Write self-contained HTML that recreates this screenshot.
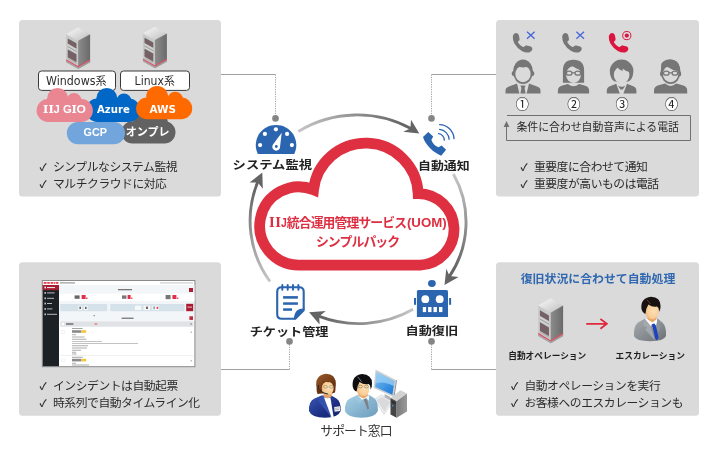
<!DOCTYPE html>
<html lang="ja">
<head>
<meta charset="utf-8">
<title>IIJ統合運用管理サービス(UOM) シンプルパック</title>
<style>
html,body{margin:0;padding:0;background:#fff;}
body{width:716px;height:451px;overflow:hidden;position:relative;font-family:"Liberation Sans","Noto Sans CJK JP",sans-serif;}
svg{position:absolute;left:0;top:0;display:block;will-change:transform;}
svg{font-family:"Liberation Sans","Noto Sans CJK JP",sans-serif;}
.b{font-size:11.8px;letter-spacing:-0.45px;fill:#2b2b2b;}
.ck{font-family:"Noto Sans CJK JP",sans-serif;font-size:10px;font-weight:700;}
.lbl{font-size:13.1px;font-weight:700;fill:#222;text-anchor:middle;}
.ct{font-size:11.8px;font-weight:700;fill:#de2f42;text-anchor:middle;}
</style>
</head>
<body>
<svg width="716" height="451" viewBox="0 0 716 451">
<defs>
<linearGradient id="ga1" gradientUnits="userSpaceOnUse" x1="298" y1="131" x2="420" y2="131"><stop offset="0" stop-color="#c6c6c6"/><stop offset="0.85" stop-color="#666"/><stop offset="1" stop-color="#646464"/></linearGradient>
<linearGradient id="ga2" gradientUnits="userSpaceOnUse" x1="455" y1="174" x2="455" y2="284"><stop offset="0" stop-color="#c6c6c6"/><stop offset="0.85" stop-color="#666"/><stop offset="1" stop-color="#646464"/></linearGradient>
<linearGradient id="ga3" gradientUnits="userSpaceOnUse" x1="413" y1="315" x2="310" y2="315"><stop offset="0" stop-color="#c6c6c6"/><stop offset="0.85" stop-color="#666"/><stop offset="1" stop-color="#646464"/></linearGradient>
<linearGradient id="ga4" gradientUnits="userSpaceOnUse" x1="260" y1="282" x2="260" y2="174"><stop offset="0" stop-color="#c6c6c6"/><stop offset="0.85" stop-color="#666"/><stop offset="1" stop-color="#646464"/></linearGradient>
<linearGradient id="svT" x1="0" y1="0" x2="1" y2="1"><stop offset="0" stop-color="#fbfbfb"/><stop offset="1" stop-color="#bdbdbd"/></linearGradient>
<linearGradient id="svR" x1="0" y1="0" x2="1" y2="0"><stop offset="0" stop-color="#8c8c8c"/><stop offset="1" stop-color="#6a6a6a"/></linearGradient>
<linearGradient id="suit" x1="0" y1="0" x2="1" y2="1"><stop offset="0" stop-color="#a8adb2"/><stop offset="1" stop-color="#6c7176"/></linearGradient>
<radialGradient id="skin" cx="0.62" cy="0.45" r="0.75"><stop offset="0" stop-color="#fde0b4"/><stop offset="0.6" stop-color="#f9cd96"/><stop offset="1" stop-color="#e8965a"/></radialGradient>
<linearGradient id="scr" x1="0" y1="0" x2="1" y2="1"><stop offset="0" stop-color="#7cc0f2"/><stop offset="1" stop-color="#1676d6"/></linearGradient>
<linearGradient id="twr" x1="0" y1="0" x2="1" y2="0"><stop offset="0" stop-color="#7a7a7a"/><stop offset="1" stop-color="#9a9a9a"/></linearGradient>
<linearGradient id="jkt" x1="0" y1="0" x2="1" y2="1"><stop offset="0" stop-color="#a6d0e6"/><stop offset="1" stop-color="#6c9cbc"/></linearGradient>
<linearGradient id="navy" x1="0" y1="0" x2="1" y2="1"><stop offset="0" stop-color="#3a58b4"/><stop offset="0.6" stop-color="#1c2f84"/><stop offset="1" stop-color="#14246a"/></linearGradient>
<linearGradient id="hairb" x1="0" y1="0" x2="1" y2="1"><stop offset="0" stop-color="#9a5a2a"/><stop offset="1" stop-color="#5e2a0c"/></linearGradient>
</defs>

<!-- panels -->
<g id="panels" fill="#dadada">
<rect x="19" y="20" width="202" height="176.5" rx="3.5"/>
<rect x="496" y="20" width="203" height="176.5" rx="3.5"/>
<rect x="19" y="262.2" width="202" height="153.6" rx="3.5"/>
<rect x="496" y="262.2" width="203" height="153.6" rx="3.5"/>
</g>

<!-- connectors -->
<g id="connectors" fill="none" stroke="#a0a0a0" stroke-width="1">
<path d="M221 74.5H275.5"/>
<path d="M275.5 74.5V116" stroke-dasharray="1.2 1.2"/>
<path d="M496 74.5H431.5"/>
<path d="M431.5 74.5V116" stroke-dasharray="1.2 1.2"/>
<path d="M221 369.5H289.5"/>
<path d="M289.5 369.5V343" stroke-dasharray="1.2 1.2"/>
<path d="M496 369.5H431.5"/>
<path d="M431.5 369.5V343" stroke-dasharray="1.2 1.2"/>
</g>
<g id="dots" fill="#858585">
<circle cx="275.5" cy="118.4" r="3.3"/>
<circle cx="431.5" cy="118.4" r="3.3"/>
<circle cx="289.5" cy="341.4" r="3.3"/>
<circle cx="431.5" cy="341.4" r="3.3"/>
</g>

<!-- cycle arrows -->
<g id="arrows" fill="none" stroke-width="2.9" stroke-linecap="butt">
<path d="M298.3 131.4 A113 113 0 0 1 411.4 128.8" stroke="url(#ga1)"/>
<path d="M453.4 174 A97.5 97.5 0 0 1 449.2 276.8" stroke="url(#ga2)"/>
<path d="M413.2 309.3 A111 111 0 0 1 318.6 316.2" stroke="url(#ga3)"/>
<path d="M270 281.5 A102.7 102.7 0 0 1 257.8 181.8" stroke="url(#ga4)"/>
</g>
<g id="arrowheads" fill="#646464">
<path d="M419.3 133.6 L403.2 131.8 L410.4 128.4 L411 119.8 Z"/>
<path d="M444.5 284.9 L446.3 268.8 L449.6 276 L458.6 277 Z"/>
<path d="M309.1 312.3 L325.8 311 L319.2 316.2 L319.6 324.6 Z"/>
<path d="M262.3 172.6 L262.8 188.8 L257.8 182.4 L249.6 182.5 Z"/>
</g>

<!-- cloud -->
<g id="cloud">
<path d="M298.8 265.1 A39.1 39.1 0 1 1 313.53 189.78 A52.5 52.5 0 0 1 418.16 193.56 A35.8 35.8 0 0 1 420.3 265.1 Z" fill="#fff" stroke="#df3041" stroke-width="10.8" stroke-linejoin="miter" stroke-miterlimit="10"/>
<g font-size="11.9" font-weight="700" fill="#de2f42">
<text x="269.1" y="226.9" font-size="12.2"><tspan style="font-family:'DejaVu Serif','Liberation Serif',serif" letter-spacing="0.4">II</tspan><tspan x="280.9" style="font-family:'Liberation Sans',sans-serif" textLength="5.8" lengthAdjust="spacingAndGlyphs">J</tspan></text>
<text x="286.8" y="227.1" textLength="120.2" lengthAdjust="spacing" font-size="12.8">統合運用管理サービス</text>
<text x="406.9" y="226.7" textLength="39.8" lengthAdjust="spacingAndGlyphs" font-size="12.3" style="font-family:'Liberation Sans',sans-serif">(UOM)</text>
<text x="315.9" y="246.1" textLength="84.3" lengthAdjust="spacing" font-size="12.9">シンプルパック</text>
</g>
</g>

<!-- labels -->
<g id="labels" font-size="11.5" font-weight="700" fill="#222">
<text x="232.6" y="169.2" textLength="79.4" lengthAdjust="spacingAndGlyphs">システム監視</text>
<text x="418" y="169.5" textLength="51.6" lengthAdjust="spacingAndGlyphs">自動通知</text>
<text x="249.7" y="336.1" textLength="78.8" lengthAdjust="spacingAndGlyphs">チケット管理</text>
<text x="405.5" y="334.5" textLength="52.6" lengthAdjust="spacingAndGlyphs">自動復旧</text>
<text x="320.3" y="434.9" font-size="12.8" font-weight="400" fill="#333" textLength="72.2" lengthAdjust="spacing">サポート窓口</text>
</g>

<!-- bullets -->
<g id="bullets" class="b">
<text class="ck" x="39.4" y="170.6">✓</text><text x="53" y="171.2">シンプルなシステム監視</text>
<text class="ck" x="39.4" y="187.6">✓</text><text x="53" y="188.2">マルチクラウドに対応</text>
<text class="ck" x="520.4" y="170.6">✓</text><text x="533.9" y="171.2">重要度に合わせて通知</text>
<text class="ck" x="520.4" y="187.6">✓</text><text x="533.9" y="188.2">重要度が高いものは電話</text>
<text class="ck" x="39.4" y="389.7">✓</text><text x="53" y="390.3">インシデントは自動起票</text>
<text class="ck" x="39.4" y="406.7">✓</text><text x="53" y="407.3">時系列で自動タイムライン化</text>
<text class="ck" x="511" y="389.7">✓</text><text x="524.4" y="390.3">自動オペレーションを実行</text>
<text class="ck" x="511" y="406.7">✓</text><text x="524.4" y="407.3">お客様へのエスカレーションも</text>
</g>

<!--ICONS-->
<g id="gauge">
<path d="M257.8 153.9 A20.25 20.25 0 1 1 294.3 153.9 Z" fill="#2b65b0"/>
<g fill="#fff">
<circle cx="275.9" cy="129.3" r="2.1"/><circle cx="264.9" cy="133.9" r="2.1"/><circle cx="287.1" cy="133.9" r="2.1"/><circle cx="260.1" cy="145.1" r="2.1"/><circle cx="291.9" cy="145.1" r="2.1"/>
<path d="M281.7 132.8 L279.9 147.9 A3.9 3.9 0 1 1 273.2 144.2 Z"/>
</g>
<circle cx="276.3" cy="146.5" r="1.4" fill="#2b65b0"/>
</g>
<g id="phone">
<path d="M428.3 132 L423 136.9 Q424.2 140.5 425.2 142 Q427.5 145.8 430.1 148.2 Q432.6 150.8 435.4 152.6 Q438.2 154.5 441.2 155.7 L446.1 149.8 L441.6 145.5 L438.5 147.3 Q435.6 146.4 434.1 144.6 Q432.2 142.6 431.4 139.7 L433.2 136.6 Z" fill="#2b65b0"/>
<g fill="none" stroke="#2b65b0" stroke-width="1.3" stroke-linecap="round">
<path d="M438.6 133.7 A6.4 6.4 0 0 1 444.3 140.2"/>
<path d="M439.6 129.4 A10.5 10.5 0 0 1 449.1 139.3"/>
<path d="M439.6 124.6 A14.8 14.8 0 0 1 454 138.6"/>
</g>
</g>
<g id="robot" fill="#2b65b0">
<ellipse cx="431.9" cy="283.5" rx="3.9" ry="3.4"/>
<path d="M416.9 317 V291.6 Q416.9 290.1 418.4 290.1 H446.5 Q448 290.1 448 291.6 V317 Z"/>
<rect x="414" y="298" width="2" height="6.8"/><rect x="449.1" y="298" width="2" height="6.8"/>
<g fill="#fff">
<circle cx="425.3" cy="299.2" r="3.9"/><circle cx="439.7" cy="299.2" r="3.9"/>
<rect x="422.8" y="307" width="3.3" height="5.1"/><rect x="428.1" y="307" width="3.4" height="5.1"/><rect x="433.5" y="307" width="3.4" height="5.1"/><rect x="439" y="307" width="3.4" height="5.1"/>
</g>
</g>
<g id="ticket">
<path d="M303.7 309.4 V291.7 Q303.7 287.2 299.2 287.2 H281.7 Q277.2 287.2 277.2 291.7 V314.3 Q277.2 318.8 281.7 318.8 H294.4" fill="#fff" stroke="#2b65b0" stroke-width="2.1" stroke-linejoin="round"/>
<path d="M293.6 319.8 Q294.4 312.6 297 310.4 Q299.4 308.3 304.7 308.6 V310.8 L295.8 319.8 Z" fill="#2b65b0"/>
<g fill="#2b65b0">
<rect x="281.3" y="284.1" width="2" height="6.6" rx="1"/><rect x="286.7" y="284.1" width="2" height="6.6" rx="1"/><rect x="292" y="284.1" width="2" height="6.6" rx="1"/><rect x="297.4" y="284.1" width="2" height="6.6" rx="1"/>
<rect x="283.1" y="296.1" width="14.8" height="2.6"/><rect x="283.1" y="302.3" width="14.8" height="2.5"/><rect x="283.1" y="308.3" width="8.9" height="2.5"/>
</g>
</g>
<!--TL-->
<g id="tl">
<g transform="translate(66.1 27.5) scale(1 1)">
<path d="M0 6.7 L12 0 L24 6.7 L12 13.3 Z" fill="url(#svT)"/>
<path d="M0 6.7 L12 13.3 V41.4 L0 34.7 Z" fill="#c9c9c9"/>
<path d="M12 13.3 L24 6.7 V34.7 L12 41.4 Z" fill="url(#svR)"/>
<path d="M1.7 11 L10.3 15.8 V36.6 L1.7 31.8 Z" fill="#b4b4b4"/>
<path d="M1.7 11 L10.3 15.8 V20.9 L1.7 16.1 Z" fill="#6a6668"/>
<path d="M1.7 12.4 L10.3 17.2 V18.1 L1.7 13.3 Z M1.7 14.6 L10.3 19.4 V20.2 L1.7 15.4Z" fill="#8a5a62"/>
<path d="M1.7 16.6 L10.3 21.4 V26.4 L1.7 21.6 Z" fill="#d2d2d2"/>
<path d="M1.7 18.6 L10.3 23.4 V24.4 L1.7 19.6 Z" fill="#9a9a9a"/>
<path d="M1.7 22 L10.3 26.8 V34.6 L1.7 29.8 Z" fill="#6a6668"/>
<path d="M1.7 23.4 L10.3 28.2 V29.1 L1.7 24.3 Z M1.7 26 L10.3 30.8 V31.7 L1.7 26.9Z M1.7 28.4 L10.3 33.2 V34 L1.7 29.2Z" fill="#8a5a62"/>
<path d="M0 31.8 L12 38.5 L24 31.8 V33.2 L12 39.9 L0 33.2 Z" fill="#dc5468"/>
<path d="M0 33.2 L12 39.9 L24 33.2 V34.7 L12 41.4 L0 34.7 Z" fill="#a2a2a2"/>
</g>
<g transform="translate(142.9 26.8) scale(1 1)">
<path d="M0 6.7 L12 0 L24 6.7 L12 13.3 Z" fill="url(#svT)"/>
<path d="M0 6.7 L12 13.3 V41.4 L0 34.7 Z" fill="#c9c9c9"/>
<path d="M12 13.3 L24 6.7 V34.7 L12 41.4 Z" fill="url(#svR)"/>
<path d="M1.7 11 L10.3 15.8 V36.6 L1.7 31.8 Z" fill="#b4b4b4"/>
<path d="M1.7 11 L10.3 15.8 V20.9 L1.7 16.1 Z" fill="#6a6668"/>
<path d="M1.7 12.4 L10.3 17.2 V18.1 L1.7 13.3 Z M1.7 14.6 L10.3 19.4 V20.2 L1.7 15.4Z" fill="#8a5a62"/>
<path d="M1.7 16.6 L10.3 21.4 V26.4 L1.7 21.6 Z" fill="#d2d2d2"/>
<path d="M1.7 18.6 L10.3 23.4 V24.4 L1.7 19.6 Z" fill="#9a9a9a"/>
<path d="M1.7 22 L10.3 26.8 V34.6 L1.7 29.8 Z" fill="#6a6668"/>
<path d="M1.7 23.4 L10.3 28.2 V29.1 L1.7 24.3 Z M1.7 26 L10.3 30.8 V31.7 L1.7 26.9Z M1.7 28.4 L10.3 33.2 V34 L1.7 29.2Z" fill="#8a5a62"/>
<path d="M0 31.8 L12 38.5 L24 31.8 V33.2 L12 39.9 L0 33.2 Z" fill="#dc5468"/>
<path d="M0 33.2 L12 39.9 L24 33.2 V34.7 L12 41.4 L0 34.7 Z" fill="#a2a2a2"/>
</g>
<g fill="#fff" stroke="#3a3a3a" stroke-width="1">
<rect x="38.5" y="71" width="77" height="19.4" rx="3"/>
<rect x="120.5" y="71" width="69" height="19.4" rx="3"/>
</g>
<g font-size="11.4" fill="#2e2e2e" style="font-family:'DejaVu Sans','Liberation Sans','Noto Sans CJK JP',sans-serif">
<text x="46.1" y="84.8" textLength="60.4" lengthAdjust="spacingAndGlyphs">Windows系</text>
<text x="134.6" y="84.8" textLength="40.2" lengthAdjust="spacingAndGlyphs">Linux系</text>
</g>
<g fill="#626262"><rect x="121.4" y="121.2" width="54.1" height="22.2" rx="11.10"/><circle cx="144" cy="121" r="10.6"/><circle cx="160" cy="122.4" r="8"/></g>
<g fill="#72a5dc"><rect x="66.8" y="121.9" width="58.2" height="22.4" rx="11.20"/></g>
<g fill="#0067c6"><rect x="85.8" y="98.6" width="54.6" height="23.3" rx="11.65"/><circle cx="106.8" cy="98.5" r="10.5"/><circle cx="123.9" cy="101" r="7.6"/></g>
<g fill="#e98692"><rect x="36.6" y="99.1" width="56.3" height="22.8" rx="11.40"/><circle cx="57.6" cy="98.5" r="10.5"/><circle cx="74" cy="100.9" r="7.8"/></g>
<g fill="#ff6a00"><rect x="136.1" y="97.6" width="56.1" height="21.6" rx="10.80"/><circle cx="157.1" cy="96.8" r="10.9"/><circle cx="175.2" cy="99.8" r="8"/></g>
<g font-weight="700" fill="#fff">
<text x="43" y="113.1" font-size="11.3"><tspan style="font-family:'DejaVu Serif','Liberation Serif',serif" letter-spacing="0.15">II</tspan><tspan x="53.6" style="font-family:'Liberation Sans',sans-serif">J G</tspan><tspan x="71.4" style="font-family:'DejaVu Serif','Liberation Serif',serif">I</tspan><tspan x="76.6" style="font-family:'Liberation Sans',sans-serif" textLength="9.4" lengthAdjust="spacingAndGlyphs">O</tspan></text>
<text x="97" y="112.8" font-size="10.5" textLength="32.8" lengthAdjust="spacingAndGlyphs" style="font-family:'DejaVu Sans','Liberation Sans',sans-serif">Azure</text>
<text x="149.4" y="112.9" font-size="10.8" textLength="26.5" lengthAdjust="spacingAndGlyphs" style="font-family:'DejaVu Sans','Liberation Sans',sans-serif">AWS</text>
<text x="95.3" y="136.2" font-size="10.8" text-anchor="middle">GCP</text>
<text x="147.6" y="136.4" font-size="11" text-anchor="middle">オンプレ</text>
</g>
</g>
<!--TR-->
<g id="tr">
<path transform="translate(0 0)" d="M516.4 32.9 Q518.2 33.2 518.8 35 L519.6 39 Q519.8 40.4 518.4 41.2 Q517.6 41.6 518 42.4 Q519.8 45.4 522.9 46.9 Q523.8 47.3 524.4 46.6 Q525.4 45.2 526.8 45.5 L530.8 46.6 Q532.4 47.2 532.4 49 Q532.2 51.6 529.2 52.4 Q525.5 53 521.8 50.9 Q517.2 48.2 514.4 43.4 Q512.6 39.8 512.8 36.6 Q513.2 33.2 516.4 32.9 Z" fill="#767676"/>
<path transform="translate(0 0)" d="M527 31.8 L534.6 38.8 M534.6 31.8 L527 38.8" stroke="#4565d8" stroke-width="1.25" fill="none"/>
<path transform="translate(49.4 0)" d="M516.4 32.9 Q518.2 33.2 518.8 35 L519.6 39 Q519.8 40.4 518.4 41.2 Q517.6 41.6 518 42.4 Q519.8 45.4 522.9 46.9 Q523.8 47.3 524.4 46.6 Q525.4 45.2 526.8 45.5 L530.8 46.6 Q532.4 47.2 532.4 49 Q532.2 51.6 529.2 52.4 Q525.5 53 521.8 50.9 Q517.2 48.2 514.4 43.4 Q512.6 39.8 512.8 36.6 Q513.2 33.2 516.4 32.9 Z" fill="#767676"/>
<path transform="translate(49.4 0)" d="M527 31.8 L534.6 38.8 M534.6 31.8 L527 38.8" stroke="#4565d8" stroke-width="1.25" fill="none"/>
<path transform="translate(96 0)" d="M516.4 32.9 Q518.2 33.2 518.8 35 L519.6 39 Q519.8 40.4 518.4 41.2 Q517.6 41.6 518 42.4 Q519.8 45.4 522.9 46.9 Q523.8 47.3 524.4 46.6 Q525.4 45.2 526.8 45.5 L530.8 46.6 Q532.4 47.2 532.4 49 Q532.2 51.6 529.2 52.4 Q525.5 53 521.8 50.9 Q517.2 48.2 514.4 43.4 Q512.6 39.8 512.8 36.6 Q513.2 33.2 516.4 32.9 Z" fill="#dc1440"/>
<circle cx="626.8" cy="35.6" r="4.1" fill="none" stroke="#dc1440" stroke-width="1"/><circle cx="626.8" cy="35.6" r="2.1" fill="#dc1440"/>
<g>
<path d="M505.5 93.6 V90.6 Q505.5 87.4 509 86.4 L517 83.4 L519.4 93.6 Z M540.5 93.6 V90.6 Q540.5 87.4 537 86.4 L529 83.4 L526.6 93.6 Z" fill="#767676"/>
<path d="M520.4 85.6 H525.6 L524.6 88 L525.6 93.6 H520.4 L521.4 88 Z" fill="#767676"/>
<ellipse cx="513.1" cy="73.6" rx="1.4" ry="2.4" fill="#767676"/><ellipse cx="532.9" cy="73.6" rx="1.4" ry="2.4" fill="#767676"/>
<ellipse cx="523" cy="71.8" rx="10" ry="12.2" fill="#767676"/><ellipse cx="523" cy="74" rx="7.7" ry="8.3" fill="#dadada"/>
<path d="M514.4 70.5 Q514 66.8 516.4 66.6 Q523 68.2 529.6 66.6 Q532 66.8 531.6 70.5 Q533 62 523 60.5 Q513 62 514.4 70.5Z" fill="#767676"/>
</g>
<g>
<path d="M557.9 93.6 V90.4 Q557.9 86.6 562.5 85.4 L567.9 84 Q573.5 88.6 579.1 84 L584.5 85.4 Q589.1 86.6 589.1 90.4 V93.6 Z" fill="#767676"/>
<path d="M562.9 82.8 V70.6 Q562.9 59.8 573.5 59.8 Q584.1 59.8 584.1 70.6 V82.8 Z" fill="#767676"/>
<ellipse cx="573.5" cy="74.6" rx="7.4" ry="8.4" fill="#dadada"/>
<path d="M565.9 72 Q566.5 66.4 571.5 65.2 Q577.5 69.6 581.1 70 V64 H565.9 Z" fill="#767676"/>
<g fill="#dadada" stroke="#767676" stroke-width="1.2"><ellipse cx="569.2" cy="73.2" rx="2.8" ry="2"/><ellipse cx="577.8" cy="73.2" rx="2.8" ry="2"/><path d="M571.9 72.8 H575.1" fill="none"/></g>
</g>
<g>
<path d="M606.8000000000001 93.6 V90.6 Q606.8000000000001 87.2 610.6 86 L616.2 83.8 L619.8000000000001 93.6 Z M636.4 93.6 V90.6 Q636.4 87.2 632.6 86 L627.0 83.8 L623.4 93.6 Z" fill="#767676"/>
<path d="M618.0 85.8 Q621.6 87.6 625.2 85.8 L622.8000000000001 89.6 H620.4 Z" fill="#767676"/>
<ellipse cx="621.6" cy="71" rx="11.8" ry="11.4" fill="#767676"/>
<path d="M610.2 72 Q610.0 79 614.6 81.4 H628.6 Q633.2 79 633.0 72 Z" fill="#767676"/>
<ellipse cx="621.6" cy="75" rx="7.8" ry="8.4" fill="#dadada"/>
<path d="M613.6 74 Q613.2 69.4 617.0 66.4 Q618.6 69.6 623.0 70.8 L622.6 68.4 Q626.2 71.6 629.6 72 V64 H613.6 Z" fill="#767676"/>
</g>
<g>
<path d="M654.0 93.6 V90.4 Q654.0 86.4 658.6 85.2 L665.0 83.6 Q670.6 88.4 676.2 83.6 L682.6 85.2 Q687.2 86.4 687.2 90.4 V93.6 Z" fill="#767676"/>
<ellipse cx="661.2" cy="74" rx="1.2" ry="2.2" fill="#767676"/><ellipse cx="680.0" cy="74" rx="1.2" ry="2.2" fill="#767676"/>
<ellipse cx="670.6" cy="71.8" rx="10" ry="12.2" fill="#767676"/><ellipse cx="670.6" cy="74" rx="7.7" ry="8.3" fill="#dadada"/>
<path d="M662.0 71.6 Q662.6 67.4 666.6 66.4 Q672.6 70.4 679.2 71.4 Q681.6 63 673.6 60 Q664.6 58 661.2 64 Q660.6 68 662.0 71.6Z" fill="#767676"/>
<g fill="#dadada" stroke="#767676" stroke-width="1.2"><ellipse cx="666.3000000000001" cy="73.2" rx="2.8" ry="2"/><ellipse cx="674.9" cy="73.2" rx="2.8" ry="2"/><path d="M669.0 72.8 H672.2" fill="none"/></g>
</g>
<circle cx="522.4" cy="104.4" r="5.7" fill="#fff"/><text x="522.4" y="109.1" font-size="13.2" fill="#222" text-anchor="middle" style="font-family:'Noto Sans CJK JP',sans-serif">①</text>
<circle cx="573.9" cy="104.4" r="5.7" fill="#fff"/><text x="573.9" y="109.1" font-size="13.2" fill="#222" text-anchor="middle" style="font-family:'Noto Sans CJK JP',sans-serif">②</text>
<circle cx="622" cy="104.4" r="5.7" fill="#fff"/><text x="622" y="109.1" font-size="13.2" fill="#222" text-anchor="middle" style="font-family:'Noto Sans CJK JP',sans-serif">③</text>
<circle cx="671.5" cy="104.4" r="5.7" fill="#fff"/><text x="671.5" y="109.1" font-size="13.2" fill="#222" text-anchor="middle" style="font-family:'Noto Sans CJK JP',sans-serif">④</text>
<path d="M507 115.5 H690.5 V140.5 H506.5 V124" fill="none" stroke="#707070" stroke-width="1"/>
<path d="M506.5 121 L509.4 127 H503.6 Z" fill="#707070"/>
<text x="516.5" y="131.2" font-size="10.85" fill="#2b2b2b">条件に合わせ自動音声による電話</text>
</g>
<!--BL-->
<g id="bl">
<rect x="42.3" y="280.5" width="152.6" height="86.2" fill="#fff" stroke="#8a8a8a" stroke-width="1"/>
<rect x="59" y="285" width="135.4" height="36" fill="#f3f6f8"/>
<rect x="59" y="293.6" width="135.4" height="7.4" fill="#fff"/>
<rect x="42.8" y="285" width="16.2" height="81.2" fill="#1c2126"/>
<rect x="42.8" y="285" width="16.2" height="5.2" fill="#a81c32"/>
<g fill="#e8283c"><rect x="43.6" y="282.1" width="3" height="1.6"/><rect x="47.2" y="282.1" width="2.6" height="1.6"/><rect x="50.6" y="282.1" width="2.6" height="1.6"/><rect x="53.8" y="282.1" width="1.6" height="1.6"/><rect x="56" y="282.1" width="2.4" height="1.6"/></g>
<rect x="60" y="282.3" width="15" height="1.2" fill="#9a9a9a"/>
<rect x="160" y="282.4" width="33" height="1" fill="#c4c4c4"/>
<g fill="#e4e6e8">
<rect x="44.4" y="286.6" width="1.6" height="1.8"/><rect x="47" y="287" width="8" height="1.1"/>
</g>
<g fill="#b8bcc0">
<rect x="44.4" y="292" width="1.6" height="1.8"/><rect x="47" y="292.4" width="7.6" height="1"/>
<rect x="44.4" y="297.4" width="1.6" height="1.8"/><rect x="47" y="297.8" width="7" height="1"/>
<rect x="44.4" y="302.6" width="1.6" height="1.8"/><rect x="47" y="303" width="5" height="1"/>
<rect x="44.4" y="308" width="1.6" height="1.8"/><rect x="47" y="308.4" width="5.4" height="1"/>
<rect x="44.4" y="313.4" width="1.6" height="1.8"/><rect x="47" y="313.8" width="10" height="1"/>
</g>
<rect x="118" y="289" width="14" height="1.3" fill="#777"/>
<rect x="189" y="288" width="4" height="4" fill="#b01e34"/>
<g>
<rect x="74.6" y="295.4" width="5" height="3.4" fill="#666"/><rect x="81.6" y="295" width="4" height="4" fill="#e0304a"/><rect x="86" y="297.6" width="1.6" height="1.2" fill="#e0304a"/>
<rect x="122" y="295.4" width="4.4" height="3.4" fill="#777"/><rect x="127.6" y="295" width="3" height="4" fill="#e0304a"/><rect x="131" y="297.6" width="1.4" height="1.2" fill="#e0304a"/>
<rect x="165.6" y="295" width="5" height="4.2" fill="#777"/><rect x="172.4" y="295" width="4" height="4" fill="#e0304a"/><rect x="176.8" y="297.6" width="1.6" height="1.2" fill="#e0304a"/>
</g>
<rect x="60.2" y="304" width="47" height="7.2" fill="#d5e2ea"/>
<rect x="110.2" y="304" width="74.4" height="7.2" fill="#d5e2ea"/>
<g fill="#f6f8f8"><rect x="78.4" y="305.6" width="3.6" height="4.4"/><rect x="84" y="305.6" width="3.6" height="4.4"/><rect x="135" y="305.6" width="6" height="4.4"/><rect x="143.6" y="305.6" width="6.4" height="4.4"/><rect x="152.4" y="305.6" width="6.4" height="4.4"/></g>
<g fill="#666"><rect x="79.4" y="306.6" width="1.6" height="2.4"/><rect x="85" y="306.8" width="1.6" height="2.2"/><rect x="146" y="306.6" width="2" height="2.4"/><rect x="153.6" y="306.4" width="1" height="2.8"/></g>
<rect x="156.6" y="306.8" width="1.6" height="2" fill="#e0304a"/>
<rect x="186.2" y="303.8" width="7" height="7.4" fill="#ab1b30"/>
<rect x="187.4" y="306.6" width="4.6" height="1" fill="#f0c0c8"/>
<rect x="93.6" y="315.3" width="1.2" height="0.9" fill="#555"/>
<rect x="121.6" y="317.6" width="12" height="1.3" fill="#777"/>
<rect x="189.4" y="316.3" width="3.6" height="3.6" fill="#c0283c"/>
<rect x="60.2" y="321.3" width="133.2" height="5.4" fill="#dfe3e6"/>
<rect x="61.8" y="322.8" width="2.4" height="2.4" fill="#fff"/><rect x="66" y="323.3" width="7.4" height="1.4" fill="#666"/><rect x="94.6" y="323.4" width="2.6" height="1.2" fill="#e66"/><rect x="190.4" y="323.3" width="1.4" height="1.4" fill="#888"/>
<rect x="61.8" y="330.6" width="2.6" height="2.6" fill="#fff" stroke="#e0e0e0" stroke-width="0.4"/>
<rect x="61.8" y="359" width="2.6" height="2.6" fill="#fff" stroke="#e0e0e0" stroke-width="0.4"/>
<rect x="60.2" y="355.3" width="133.2" height="0.6" fill="#e3e6e8"/>
<g fill="#9a9a9a">
<rect x="72" y="328" width="10.6" height="0.9"/>
<rect x="72" y="334.4" width="4" height="0.8"/><rect x="72" y="336.6" width="12.6" height="0.8"/><rect x="72" y="338.8" width="14.6" height="0.8"/><rect x="72" y="341" width="30" height="0.8" fill="#b4b4b4"/><rect x="72" y="343.2" width="66" height="0.8" fill="#b4b4b4"/><rect x="72" y="345.4" width="16" height="0.8"/><rect x="72" y="347.6" width="15" height="0.8"/><rect x="72" y="349.8" width="9" height="0.8"/><rect x="72" y="351.8" width="4" height="0.8"/><rect x="72" y="353.6" width="4.6" height="0.8"/>
<rect x="72" y="356.8" width="10.6" height="0.9"/><rect x="72" y="362.8" width="4" height="0.8"/><rect x="72" y="364.6" width="17" height="0.8"/>
<rect x="190.6" y="331.6" width="1.2" height="1.2"/><rect x="190.6" y="360.2" width="1.2" height="1.2"/>
</g>
<rect x="72" y="330.2" width="9.4" height="2.6" fill="#8a8a8a"/><rect x="81.4" y="330.2" width="4.8" height="2.6" fill="#f4c63a"/>
<rect x="72" y="358.8" width="9.4" height="2.6" fill="#8a8a8a"/><rect x="81.4" y="358.8" width="4.8" height="2.6" fill="#f4c63a"/>
</g>
<!--BR-->
<g id="br">
<text x="598" y="283.2" font-size="11.9" font-weight="700" fill="#2f67b1" text-anchor="middle">復旧状況に合わせて自動処理</text>
<g transform="translate(538.2 298.3) scale(1.0375 1.087)">
<path d="M0 6.7 L12 0 L24 6.7 L12 13.3 Z" fill="url(#svT)"/>
<path d="M0 6.7 L12 13.3 V41.4 L0 34.7 Z" fill="#c9c9c9"/>
<path d="M12 13.3 L24 6.7 V34.7 L12 41.4 Z" fill="url(#svR)"/>
<path d="M1.7 11 L10.3 15.8 V36.6 L1.7 31.8 Z" fill="#b4b4b4"/>
<path d="M1.7 11 L10.3 15.8 V20.9 L1.7 16.1 Z" fill="#6a6668"/>
<path d="M1.7 12.4 L10.3 17.2 V18.1 L1.7 13.3 Z M1.7 14.6 L10.3 19.4 V20.2 L1.7 15.4Z" fill="#8a5a62"/>
<path d="M1.7 16.6 L10.3 21.4 V26.4 L1.7 21.6 Z" fill="#d2d2d2"/>
<path d="M1.7 18.6 L10.3 23.4 V24.4 L1.7 19.6 Z" fill="#9a9a9a"/>
<path d="M1.7 22 L10.3 26.8 V34.6 L1.7 29.8 Z" fill="#6a6668"/>
<path d="M1.7 23.4 L10.3 28.2 V29.1 L1.7 24.3 Z M1.7 26 L10.3 30.8 V31.7 L1.7 26.9Z M1.7 28.4 L10.3 33.2 V34 L1.7 29.2Z" fill="#8a5a62"/>
<path d="M0 31.8 L12 38.5 L24 31.8 V33.2 L12 39.9 L0 33.2 Z" fill="#dc5468"/>
<path d="M0 33.2 L12 39.9 L24 33.2 V34.7 L12 41.4 L0 34.7 Z" fill="#a2a2a2"/>
</g>
<path d="M586.2 323.8 H606.4 M600.4 319 L606.9 323.8 L600.4 328.7" fill="none" stroke="#e0283c" stroke-width="1.7" stroke-linejoin="miter"/>
<g id="bizman">
<path d="M633.9 336 Q633.6 326 638 322.6 L645.6 318.2 H656.8 L662.4 322.4 Q666.4 326 666 336 Q664 341.2 650 341.2 Q636 341.2 633.9 336 Z" fill="url(#suit)"/>
<path d="M644.6 318.6 L650.6 326 L653.4 323.4 L656.4 326.6 L657.4 318.4 Z" fill="#fff"/>
<path d="M651.6 324.4 L654.4 323.4 L655.8 325.6 L658.6 337.6 L657 340.6 L655.4 339 L652.6 326.8 Z" fill="#1c43c4"/>
<path d="M644.4 318.4 L650.8 326.4 L655 340.6 L645 329.6 L647.2 327.6 L643.4 325.4 Z" fill="#a3a9ae"/>
<path d="M657.6 318.4 L656.2 326.6 L658.4 333 L661 326 L659 325 L661.4 322.6 Z" fill="#8e9499"/>
<path d="M647.6 314 H656.4 V319.6 L652.4 322.6 L647.6 319.4 Z" fill="#e9a868"/>
<ellipse cx="651.9" cy="311.6" rx="6.7" ry="7.8" fill="url(#skin)"/>
<path d="M641.4 308.6 Q640.4 298 651 296.7 Q660.6 297.2 660.6 306 Q660.8 309.6 659 312 Q659.2 307.6 656.8 306.6 Q652.6 307.6 648.4 304.6 Q645.8 308.6 645.4 314 Q642 312.6 641.4 308.6 Z" fill="#1a1210"/>
<path d="M646.6 299.4 Q648 300.8 650.6 304" stroke="#6a3a28" stroke-width="0.9" fill="none"/>
</g>
<g font-size="8.7" font-weight="700" fill="#1e1e1e" text-anchor="middle">
<text x="547.2" y="359.3">自動オペレーション</text>
<text x="650.2" y="359.3">エスカレーション</text>
</g>
</g>
<!--SUPPORT-->
<g id="support">
<!-- computer -->
<path d="M374.3 399.2 L381.6 395 L393 401.8 L384 414.4 Z" fill="#eceeef" stroke="#c4c6c8" stroke-width="0.5"/>
<path d="M376.6 400 L382 397 L390.4 402 L384.4 411.6 Z" fill="#d8dadc"/>
<path d="M384.6 394 L390.6 397 V400.6 L384.6 397.6 Z" fill="#b4b6b8"/>
<path d="M375.6 369.6 L396 379.9 L393.5 397.1 L373.6 388.1 Z" fill="#cdd1d4"/>
<path d="M396 379.9 L397 380.6 L394.4 397.8 L393.5 397.1 Z" fill="#8e9296"/>
<path d="M376.8 372.2 L394.4 381.2 L392.4 394.8 L375.2 387 Z" fill="url(#scr)"/>
<path d="M376.8 372.2 L394.4 381.2 L393.6 386 Q384 380.6 375.6 383.4 Z" fill="#9dd2f6" opacity="0.75"/>
<path d="M390.5 398 L400.4 390.2 L407 393.4 L396.6 401.2 Z" fill="#d2d2d2"/>
<path d="M390.5 398 L396.6 401.2 V417.8 L390.5 414.4 Z" fill="#454545"/>
<path d="M396.6 401.2 L407 393.4 V411.4 L396.6 417.8 Z" fill="url(#twr)"/>
<path d="M391.3 400.4 L395.8 402.8 V404.4 L391.3 402 Z" fill="#2a2a2a"/>
<circle cx="392.8" cy="405.8" r="0.8" fill="#3aa0f0"/>
<!-- man -->
<path d="M344.9 411 Q344.6 401 350 398.4 L358 394.8 H368.4 L374 398 Q378.2 401 377.9 411 Q375 417.8 361.4 417.8 Q347.6 417.8 344.9 411 Z" fill="url(#jkt)"/>
<path d="M357.6 395.6 L362 400 L366.4 398 L368.8 401 L369.4 395.4 Z" fill="#f4f6f8"/>
<path d="M363.6 399.6 L366 398.6 L367.4 400.6 L369 408.6 L367.6 409.8 L364.6 401.8 Z" fill="#7e8084"/>
<path d="M356.8 395.4 L362.4 400.6 L359.6 403.4 L354.6 398 Z" fill="#9cc6de"/>
<path d="M369.6 395.2 L368.6 401.4 L371.4 403 L372.4 397.4 Z" fill="#86b4ce"/>
<path d="M358.6 391 H367.6 V396 L363.6 398.6 L358.6 396 Z" fill="#e8a466"/>
<ellipse cx="363" cy="389" rx="6.3" ry="7.4" fill="url(#skin)"/>
<path d="M352.7 386.4 Q351.6 375.4 362 374 Q372 374.6 372 383.4 Q372.2 387 370.6 389.4 Q370.6 385 368.4 384 Q363.8 385 359.6 382 Q357 386 356.6 391.6 Q353.4 390.4 352.7 386.4 Z" fill="#0e0e10"/>
<path d="M357.6 376.8 Q359.4 378.6 361.4 381.6" stroke="#8a8a90" stroke-width="0.9" fill="none"/>
<g fill="none" stroke="#6a6a5a" stroke-width="0.5"><ellipse cx="360.4" cy="386.6" rx="2.2" ry="1.3"/><ellipse cx="366.4" cy="386.6" rx="2.2" ry="1.3"/><path d="M357 386 L358.2 386.4"/></g>
<!-- woman -->
<path d="M309 411 Q308.6 401.4 314 398.8 L321.4 395.4 H331.4 L336.4 398.4 Q341 401 340.7 411 Q338 417.8 325 417.8 Q311.6 417.8 309 411 Z" fill="url(#navy)"/>
<path d="M323 397.6 L330.4 397.6 L333.6 417 L331 417.6 Z" fill="#fff"/>
<path d="M320.4 396 L324 397.4 L331.6 417.6 L318.4 401.4 Z" fill="#3350ac"/>
<path d="M334.2 407 L340 406.2 L340.2 411 L334.6 411.8 Z" fill="#f4f4f6"/>
<path d="M335 408.4 L339.4 407.8 M335.2 410 L339.4 409.4" stroke="#8a8a8a" stroke-width="0.6"/>
<path d="M316.8 380 Q316 392 317.6 394 L322 393.6 L332 393.4 L335 392.6 Q336 388 335.4 380 Z" fill="#6a3210"/>
<path d="M323.6 391 H331.6 V396.4 L327.6 398.4 L323.6 396.4 Z" fill="#e8a466"/>
<ellipse cx="327.6" cy="388.4" rx="6" ry="6.9" fill="url(#skin)"/>
<path d="M316.4 386 Q315.4 375 326 373.8 Q335.6 374.4 335.6 383 Q335.6 386.4 334.6 388 Q334.4 383.4 332.4 381.6 Q328 383.4 323.6 381 Q321.4 384 321.4 389.6 Q317.4 389.6 316.4 386 Z" fill="url(#hairb)"/>
<g fill="none" stroke="#7a7a60" stroke-width="0.5"><ellipse cx="325.4" cy="386.8" rx="2.2" ry="1.3"/><ellipse cx="331.2" cy="386.8" rx="2.2" ry="1.3"/></g>
<path d="M318.8 385 Q317.6 386.6 318.6 388.8 M319.6 389.6 Q322 393.4 328.2 394.2" fill="none" stroke="#222" stroke-width="1"/>
</g>
</svg>
</body>
</html>
